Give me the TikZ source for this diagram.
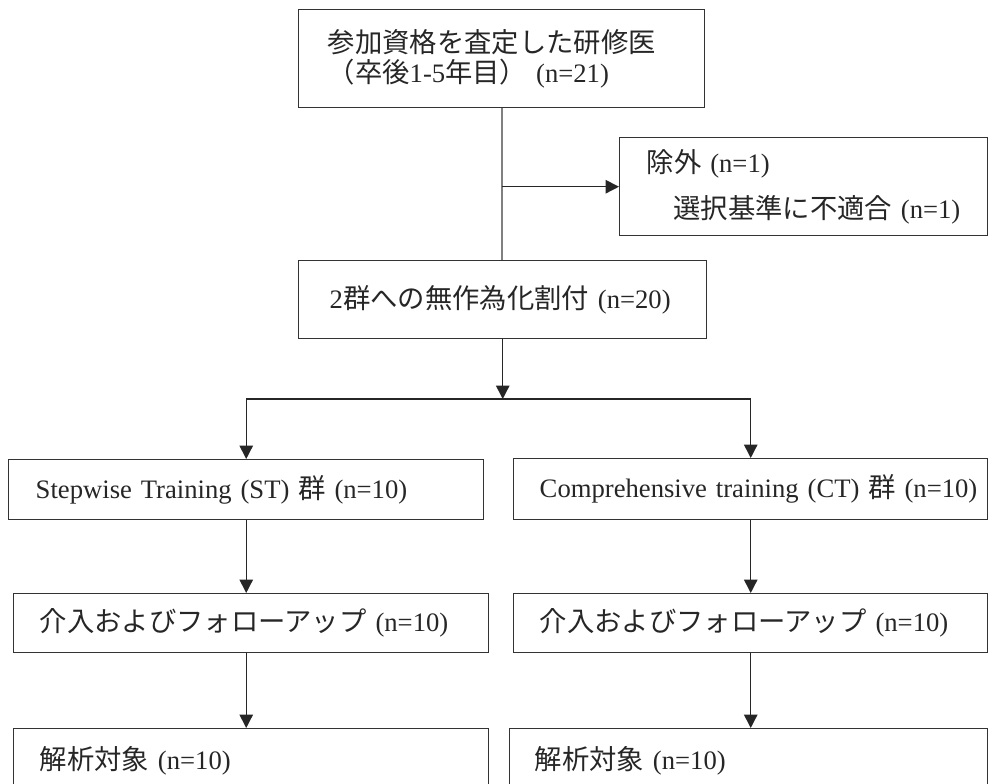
\documentclass[tikz,border=0pt]{standalone}
\usepackage{fontspec}
\setmainfont{Liberation Serif}[Scale=0.975]
\newfontfamily\jp{Noto Sans CJK JP}
\usetikzlibrary{arrows.meta}

\tikzset{
  box/.style={draw=black!80, line width=1.1pt, anchor=north west, align=left,
    inner xsep=19.5pt, inner ysep=0pt, text=black!85},
  arrow/.style={draw=black!85, line width=1.1pt, -{Triangle[length=10pt,width=10pt]}},
  stem/.style={draw=black!50, line width=1.3pt}
}

\begin{document}
\begin{tikzpicture}[x=0.75pt, y=-0.75pt, font=\fontsize{20.5pt}{22pt}\selectfont]
    % Fix the page, the last row is cut at the bottom edge
    \useasboundingbox (0,0) rectangle (989,784);
    \clip (0,0) rectangle (989,784);

    % Eligible residents and the excluded one
    \node[box, text width=261pt, inner xsep=21.75pt, minimum height=73.5pt] (top) at (298,9)
        {{\jp 参加資格を査定した研修医}\\{\jp （卒後}1-5{\jp 年目）}~(n=21)};
    \node[box, text width=235.5pt, inner xsep=20.25pt, minimum height=73.5pt] (excl) at (619,137)
        {{\jp 除外}~(n=1)\\[12pt]\hspace*{1em}\mbox{{\jp 選択基準に不適合}~(n=1)}};

    % Randomisation
    \node[box, text width=259.5pt, inner xsep=23.25pt, minimum height=58.5pt] (rand) at (298,260)
        {2{\jp 群への無作為化割付}~(n=20)};

    % The two groups
    \node[box, text width=315.75pt, inner xsep=20.25pt, minimum height=45pt] (st) at (8,459)
        {\mbox{Stepwise Training (ST) {\jp 群} (n=10)}};
    \node[box, text width=316.5pt, minimum height=45.75pt] (ct) at (513,458)
        {\mbox{Comprehensive training (CT) {\jp 群} (n=10)}};

    % Intervention and follow-up
    \node[box, text width=317.25pt, minimum height=44.25pt] (st-fu) at (13,593)
        {{\jp 介入およびフォローアップ}~(n=10)};
    \node[box, text width=316.5pt, minimum height=44.25pt] (ct-fu) at (513,593)
        {{\jp 介入およびフォローアップ}~(n=10)};

    % Analysed
    \node[box, text width=317.25pt, minimum height=48pt] (st-an) at (13,728)
        {{\jp 解析対象}~(n=10)};
    \node[box, text width=321pt, inner xsep=18.75pt, minimum height=48pt] (ct-an) at (509,728)
        {{\jp 解析対象}~(n=10)};

    % Main stem with the branch to the exclusion box
    \draw[stem] (top.south) -- (top.south |- rand.north);
    \draw[arrow] (top.south |- excl.west) -- (excl.west);

    % Split into the two arms
    \coordinate (split) at (rand.south |- 0,399);
    \draw[arrow] (rand.south) -- (split);
    \draw[draw=black!85, line width=1.1pt] (st.north |- split) -- (ct.north |- split);

    % Arrows down each arm
    \foreach \g in {st,ct} {
        \draw[arrow] (\g.north |- split) -- (\g.north);
        \draw[arrow] (\g.south) -- (\g.south |- \g-fu.north);
        \draw[arrow] (\g.south |- \g-fu.south) -- (\g.south |- \g-an.north);
    }
\end{tikzpicture}
\end{document}
